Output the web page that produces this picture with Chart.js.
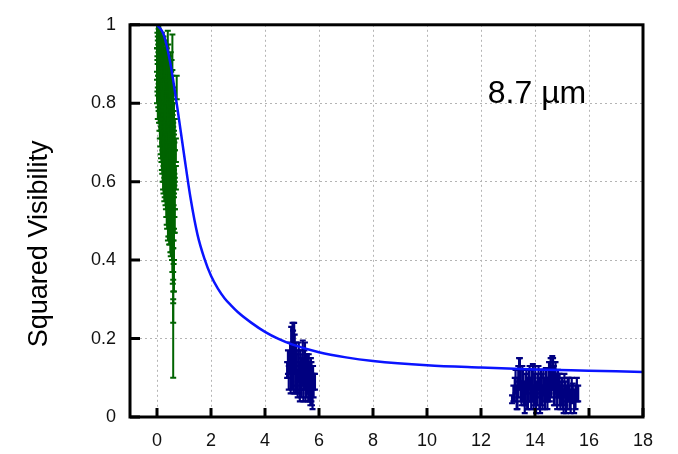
<!DOCTYPE html>
<html>
<head>
<meta charset="utf-8">
<script src="https://cdn.jsdelivr.net/npm/chart.js@4.4.0/dist/chart.umd.min.js"></script>
<style>
  html, body { margin: 0; padding: 0; background: #fff; }
  #wrap { width: 678px; height: 454px; }
</style>
</head>
<body>
<div id="wrap"><canvas id="chart" width="678" height="454"></canvas></div>
<script>
// axis ticks
const xTicks = [0, 2, 4, 6, 8, 10, 12, 14, 16, 18];
const yTicks = [0, 0.2, 0.4, 0.6, 0.8, 1];
const yTickLabels = ["0", "0.2", "0.4", "0.6", "0.8", "1"];
const yTitle = "Squared Visibility";
const bandLabel = "8.7 \u00b5m";

// model curve (blue line)
const modelU  = [0, 0.25, 0.5, 0.75, 1.0, 1.25, 1.5, 1.75, 2.0, 2.25, 2.5, 2.75, 3.0, 3.5, 4.0, 4.5, 5, 6, 7, 8, 10, 12, 14, 16, 18];
const modelV2 = [1.0, 0.975, 0.9, 0.79, 0.67, 0.555, 0.465, 0.405, 0.36, 0.328, 0.303, 0.284, 0.267, 0.24, 0.217, 0.199, 0.185, 0.165, 0.152, 0.143, 0.132, 0.126, 0.121, 0.118, 0.115];

// short baselines (green) : [u, V2, err]
const greenPoints = [
  [0.00, 0.97, 0.03], [0.00, 0.90, 0.04], [0.00, 0.84, 0.04],
  [0.015, 0.95, 0.03], [0.015, 0.87, 0.04],
  [0.03, 0.99, 0.02], [0.03, 0.93, 0.03], [0.03, 0.86, 0.04], [0.03, 0.80, 0.04],
  [0.045, 0.97, 0.03], [0.045, 0.91, 0.04], [0.045, 0.83, 0.04],
  [0.06, 0.96, 0.03], [0.06, 0.89, 0.04], [0.06, 0.82, 0.04],
  [0.075, 0.94, 0.03], [0.075, 0.87, 0.04], [0.075, 0.79, 0.04],
  [0.09, 1.00, 0.02], [0.09, 0.92, 0.04], [0.09, 0.85, 0.04], [0.09, 0.77, 0.04],
  [0.105, 0.95, 0.03], [0.105, 0.82, 0.04], [0.105, 0.75, 0.04],
  [0.12, 0.97, 0.03], [0.12, 0.88, 0.04], [0.12, 0.80, 0.05], [0.12, 0.73, 0.04],
  [0.135, 0.91, 0.04], [0.135, 0.84, 0.04], [0.135, 0.71, 0.04],
  [0.15, 0.94, 0.03], [0.15, 0.86, 0.04], [0.15, 0.78, 0.05], [0.15, 0.70, 0.04],
  [0.165, 0.89, 0.04], [0.165, 0.80, 0.05], [0.165, 0.69, 0.04],
  [0.18, 0.95, 0.03], [0.18, 0.83, 0.05], [0.18, 0.75, 0.04], [0.18, 0.67, 0.04],
  [0.195, 0.93, 0.04], [0.195, 0.77, 0.04], [0.195, 0.66, 0.04],
  [0.21, 0.91, 0.04], [0.21, 0.87, 0.04], [0.21, 0.80, 0.05], [0.21, 0.72, 0.04], [0.21, 0.64, 0.04],
  [0.225, 0.89, 0.04], [0.225, 0.75, 0.04], [0.225, 0.62, 0.04],
  [0.24, 0.93, 0.04], [0.24, 0.84, 0.05], [0.24, 0.77, 0.04], [0.24, 0.69, 0.05], [0.24, 0.61, 0.04],
  [0.255, 0.87, 0.04], [0.255, 0.72, 0.05], [0.255, 0.64, 0.04],
  [0.27, 0.89, 0.04], [0.27, 0.81, 0.05], [0.27, 0.74, 0.04], [0.27, 0.66, 0.05], [0.27, 0.59, 0.04],
  [0.285, 0.90, 0.04], [0.285, 0.77, 0.04], [0.285, 0.60, 0.04],
  [0.30, 0.92, 0.04], [0.30, 0.85, 0.05], [0.30, 0.78, 0.04], [0.30, 0.70, 0.05], [0.30, 0.62, 0.04],
  [0.315, 0.83, 0.04], [0.315, 0.67, 0.05], [0.315, 0.58, 0.04],
  [0.33, 0.88, 0.05], [0.33, 0.80, 0.04], [0.33, 0.73, 0.05], [0.33, 0.65, 0.04], [0.33, 0.57, 0.04],
  [0.345, 0.86, 0.04], [0.345, 0.71, 0.05], [0.345, 0.55, 0.04],
  [0.36, 0.90, 0.04], [0.36, 0.83, 0.05], [0.36, 0.76, 0.04], [0.36, 0.68, 0.05], [0.36, 0.60, 0.04], [0.36, 0.53, 0.04],
  [0.375, 0.81, 0.05], [0.375, 0.65, 0.04], [0.375, 0.52, 0.04],
  [0.39, 0.86, 0.05], [0.39, 0.79, 0.04], [0.39, 0.71, 0.05], [0.39, 0.63, 0.04], [0.39, 0.55, 0.04],
  [0.40, 0.92, 0.065],
  [0.405, 0.77, 0.05], [0.405, 0.60, 0.04], [0.405, 0.49, 0.04],
  [0.42, 0.91, 0.04], [0.42, 0.82, 0.05], [0.42, 0.74, 0.04], [0.42, 0.66, 0.05], [0.42, 0.58, 0.04], [0.42, 0.50, 0.04],
  [0.435, 0.85, 0.05], [0.435, 0.71, 0.04], [0.435, 0.55, 0.04],
  [0.45, 0.87, 0.05], [0.45, 0.77, 0.04], [0.45, 0.69, 0.05], [0.45, 0.61, 0.04], [0.45, 0.53, 0.04], [0.45, 0.47, 0.03],
  [0.465, 0.81, 0.05], [0.465, 0.66, 0.04], [0.465, 0.50, 0.04],
  [0.48, 0.84, 0.05], [0.48, 0.79, 0.04], [0.48, 0.72, 0.05], [0.48, 0.64, 0.04], [0.48, 0.56, 0.04], [0.48, 0.48, 0.04],
  [0.495, 0.77, 0.05], [0.495, 0.62, 0.04], [0.495, 0.46, 0.04],
  [0.51, 0.89, 0.04], [0.51, 0.81, 0.05], [0.51, 0.75, 0.04], [0.51, 0.67, 0.05], [0.51, 0.59, 0.04], [0.51, 0.51, 0.04], [0.51, 0.44, 0.03],
  [0.525, 0.83, 0.05], [0.525, 0.65, 0.04], [0.525, 0.49, 0.04],
  [0.54, 0.86, 0.05], [0.54, 0.78, 0.04], [0.54, 0.70, 0.05], [0.54, 0.62, 0.04], [0.54, 0.54, 0.04], [0.54, 0.46, 0.04],
  [0.555, 0.75, 0.05], [0.555, 0.58, 0.04], [0.555, 0.44, 0.04],
  [0.57, 0.93, 0.045], [0.57, 0.82, 0.05], [0.57, 0.73, 0.04], [0.57, 0.65, 0.05], [0.57, 0.57, 0.04], [0.57, 0.49, 0.04], [0.57, 0.41, 0.04],
  [0.585, 0.69, 0.05], [0.585, 0.52, 0.04], [0.585, 0.37, 0.03],
  [0.60, 0.79, 0.05], [0.60, 0.71, 0.04], [0.60, 0.63, 0.05], [0.60, 0.55, 0.04], [0.60, 0.47, 0.04], [0.60, 0.39, 0.04], [0.60, 0.33, 0.04],
  [0.60, 0.28, 0.04], [0.60, 0.20, 0.10],
  [0.615, 0.74, 0.04], [0.615, 0.58, 0.04], [0.615, 0.42, 0.03],
  [0.63, 0.76, 0.04], [0.63, 0.68, 0.05], [0.63, 0.60, 0.04], [0.63, 0.52, 0.05], [0.63, 0.44, 0.04], [0.63, 0.36, 0.04],
  [0.645, 0.66, 0.04], [0.645, 0.55, 0.04],
  [0.66, 0.72, 0.04], [0.66, 0.64, 0.04], [0.66, 0.57, 0.04], [0.66, 0.50, 0.03],
  [0.70, 0.68, 0.03], [0.70, 0.61, 0.03], [0.73, 0.84, 0.03]
];

// long baselines (navy) near 5 : [u, V2, err]
const bluePoints5 = [
  [4.82, 0.12, 0.02], [4.85, 0.14, 0.03], [4.88, 0.10, 0.03], [4.93, 0.15, 0.04],
  [4.95, 0.10, 0.04], [4.97, 0.19, 0.04], [5.00, 0.12, 0.05], [5.02, 0.21, 0.03],
  [5.04, 0.17, 0.05], [5.06, 0.09, 0.03], [5.08, 0.20, 0.04], [5.10, 0.16, 0.05],
  [5.12, 0.11, 0.05], [5.15, 0.15, 0.04], [5.17, 0.12, 0.04], [5.19, 0.09, 0.03],
  [5.21, 0.07, 0.02], [5.23, 0.13, 0.04], [5.25, 0.16, 0.03], [5.27, 0.10, 0.04],
  [5.29, 0.07, 0.03], [5.31, 0.14, 0.03], [5.33, 0.11, 0.04], [5.35, 0.08, 0.03],
  [5.38, 0.12, 0.04], [5.40, 0.16, 0.035], [5.42, 0.08, 0.04], [5.44, 0.11, 0.04],
  [5.46, 0.12, 0.05], [5.48, 0.15, 0.04], [5.50, 0.06, 0.02], [5.52, 0.09, 0.04],
  [5.54, 0.13, 0.03], [5.56, 0.12, 0.04], [5.58, 0.10, 0.04], [5.60, 0.07, 0.03],
  [5.62, 0.13, 0.03], [5.64, 0.10, 0.04], [5.66, 0.08, 0.04], [5.68, 0.06, 0.03],
  [5.70, 0.12, 0.03], [5.72, 0.09, 0.05], [5.74, 0.07, 0.04], [5.76, 0.05, 0.03],
  [5.78, 0.10, 0.03], [5.80, 0.08, 0.03], [5.85, 0.09, 0.02]
];

// long baselines (navy) near 14 : [u, V2, err]
const bluePoints14 = [
  [13.15, 0.045, 0.01], [13.20, 0.06, 0.02], [13.25, 0.07, 0.03], [13.28, 0.09, 0.03],
  [13.32, 0.05, 0.03], [13.35, 0.06, 0.04], [13.38, 0.09, 0.04], [13.41, 0.12, 0.03],
  [13.44, 0.11, 0.04], [13.47, 0.08, 0.04], [13.50, 0.06, 0.03], [13.53, 0.10, 0.03],
  [13.56, 0.08, 0.04], [13.59, 0.06, 0.03], [13.62, 0.04, 0.03], [13.65, 0.07, 0.04],
  [13.68, 0.09, 0.03], [13.71, 0.04, 0.02], [13.74, 0.06, 0.04], [13.77, 0.08, 0.04],
  [13.80, 0.10, 0.03], [13.83, 0.07, 0.03], [13.86, 0.05, 0.03], [13.89, 0.08, 0.04],
  [13.92, 0.10, 0.035], [13.95, 0.05, 0.03], [13.98, 0.07, 0.04], [14.01, 0.09, 0.04],
  [14.04, 0.04, 0.03], [14.07, 0.06, 0.03], [14.10, 0.08, 0.03], [14.13, 0.10, 0.03],
  [14.16, 0.06, 0.04], [14.19, 0.04, 0.03], [14.22, 0.09, 0.03], [14.25, 0.07, 0.04],
  [14.28, 0.05, 0.03], [14.31, 0.09, 0.03], [14.34, 0.07, 0.03], [14.37, 0.05, 0.03],
  [14.40, 0.09, 0.035], [14.43, 0.08, 0.04], [14.46, 0.06, 0.04], [14.49, 0.07, 0.03],
  [14.52, 0.10, 0.04], [14.55, 0.08, 0.04], [14.58, 0.11, 0.04], [14.61, 0.09, 0.04],
  [14.64, 0.12, 0.035], [14.67, 0.11, 0.04], [14.70, 0.08, 0.05], [14.73, 0.06, 0.03],
  [14.76, 0.10, 0.04], [14.79, 0.08, 0.03], [14.82, 0.06, 0.04], [14.85, 0.09, 0.03],
  [14.88, 0.08, 0.03], [14.91, 0.07, 0.04], [14.94, 0.05, 0.03], [14.97, 0.06, 0.03],
  [15.00, 0.07, 0.03], [15.03, 0.05, 0.03], [15.06, 0.04, 0.03], [15.09, 0.08, 0.03],
  [15.12, 0.06, 0.03], [15.15, 0.04, 0.03], [15.18, 0.05, 0.03], [15.21, 0.07, 0.03],
  [15.25, 0.07, 0.03], [15.28, 0.05, 0.03], [15.32, 0.04, 0.03], [15.36, 0.07, 0.03],
  [15.40, 0.06, 0.025], [15.45, 0.04, 0.03], [15.50, 0.05, 0.03], [15.55, 0.07, 0.03],
  [15.60, 0.06, 0.02]
];

const FONT = "'Liberation Sans', Arial, sans-serif";

function toErrData(list) {
  return list.map(p => ({ x: p[0], y: p[1], err: p[2] }));
}

// vertical error bars with caps, drawn under the model curve
const errorBarPlugin = {
  id: "errorBars",
  beforeDatasetsDraw(chart) {
    const { ctx, chartArea, scales: { x, y } } = chart;
    ctx.save();
    ctx.beginPath();
    ctx.rect(chartArea.left, chartArea.top, chartArea.right - chartArea.left, chartArea.bottom - chartArea.top);
    ctx.clip();
    chart.data.datasets.forEach(ds => {
      if (!ds.errorBars) return;
      ctx.strokeStyle = ds.errorBars.color;
      ctx.lineWidth = ds.errorBars.width;
      const cap = ds.errorBars.cap;
      ds.data.forEach(p => {
        const px = x.getPixelForValue(p.x);
        const yLo = y.getPixelForValue(p.y - p.err);
        const yHi = y.getPixelForValue(p.y + p.err);
        ctx.beginPath();
        ctx.moveTo(px, yLo);
        ctx.lineTo(px, yHi);
        ctx.moveTo(px - cap, yLo);
        ctx.lineTo(px + cap, yLo);
        ctx.moveTo(px - cap, yHi);
        ctx.lineTo(px + cap, yHi);
        ctx.stroke();
      });
    });
    ctx.restore();
  }
};

// frame, inward ticks, y title and wavelength label
const framePlugin = {
  id: "frame",
  afterDraw(chart) {
    const { ctx, chartArea: a, scales: { x, y } } = chart;
    ctx.save();
    ctx.strokeStyle = "#000";
    ctx.lineWidth = 3;
    ctx.strokeRect(a.left, a.top, a.right - a.left, a.bottom - a.top);
    ctx.beginPath();
    xTicks.forEach(v => {
      const px = x.getPixelForValue(v);
      ctx.moveTo(px, a.bottom);
      ctx.lineTo(px, a.bottom - 9);
    });
    yTicks.forEach(v => {
      const py = y.getPixelForValue(v);
      ctx.moveTo(a.left, py);
      ctx.lineTo(a.left + 10, py);
    });
    ctx.stroke();

    ctx.fillStyle = "#000";
    ctx.font = "32px " + FONT;
    ctx.textAlign = "left";
    ctx.textBaseline = "alphabetic";
    ctx.fillText(bandLabel, x.getPixelForValue(12.25), y.getPixelForValue(0.8));

    ctx.font = "27px " + FONT;
    ctx.textAlign = "center";
    ctx.textBaseline = "middle";
    ctx.translate(40, (a.top + a.bottom) / 2 + 23);
    ctx.rotate(-Math.PI / 2);
    ctx.fillText(yTitle, 0, 0);
    ctx.restore();
  }
};

new Chart(document.getElementById("chart"), {
  type: "scatter",
  data: {
    datasets: [
      {
        data: toErrData(greenPoints),
        pointRadius: 0,
        errorBars: { color: "#006400", width: 2, cap: 3 }
      },
      {
        data: toErrData(bluePoints5),
        pointRadius: 0,
        errorBars: { color: "#000080", width: 2.2, cap: 3 }
      },
      {
        data: toErrData(bluePoints14),
        pointRadius: 0,
        errorBars: { color: "#000080", width: 2.2, cap: 3 }
      },
      {
        type: "line",
        data: modelU.map((u, i) => ({ x: u, y: modelV2[i] })),
        borderColor: "#0a14ff",
        borderWidth: 2.5,
        pointRadius: 0,
        fill: false,
        cubicInterpolationMode: "monotone"
      }
    ]
  },
  options: {
    responsive: false,
    animation: false,
    devicePixelRatio: 1,
    layout: { padding: { left: 0, right: 35, top: 15, bottom: 0 } },
    plugins: { legend: { display: false }, tooltip: { enabled: false } },
    scales: {
      x: {
        type: "linear",
        min: -1,
        max: 18,
        afterBuildTicks: s => { s.ticks = xTicks.map(v => ({ value: v })); },
        afterFit: s => { s.height = 37; },
        grid: { color: "#b4b4b4", lineWidth: 1, drawTicks: false },
        border: { display: false, dash: [2, 3] },
        ticks: { color: "#111", font: { family: FONT, size: 18 }, padding: 13, maxRotation: 0 }
      },
      y: {
        type: "linear",
        min: 0,
        max: 1,
        afterBuildTicks: s => { s.ticks = yTicks.map(v => ({ value: v })); },
        afterFit: s => { s.width = 130; },
        grid: { color: "#b4b4b4", lineWidth: 1, drawTicks: false },
        border: { display: false, dash: [2, 3] },
        ticks: {
          color: "#111",
          font: { family: FONT, size: 18 },
          padding: 14,
          callback: (v, i) => yTickLabels[i]
        }
      }
    }
  },
  plugins: [errorBarPlugin, framePlugin]
});
</script>
</body>
</html>
